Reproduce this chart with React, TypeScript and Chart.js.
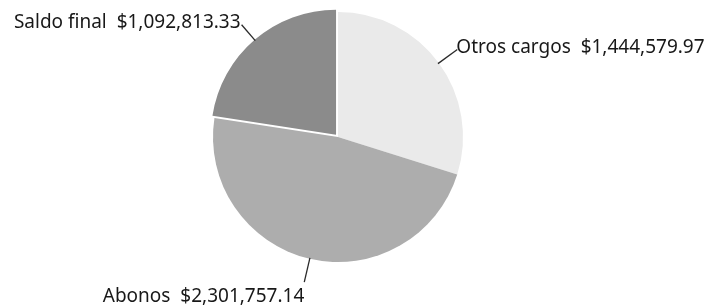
import React, { useEffect, useRef } from "react";
import { Chart, registerables } from "chart.js";

Chart.register(...registerables);

const categories = ["Otros cargos", "Abonos", "Saldo final"];
const values = [1444579.97, 2301757.14, 1092813.33];
const valueLabels = ["$1,444,579.97", "$2,301,757.14", "$1,092,813.33"];
const sliceColors = ["#eaeaea", "#adadad", "#8b8b8b"];
const sliceOffsets = [0, 0, 12];
const leaderLengths = [23, 24, 20];

const labelPlugin = {
  id: "pieLabels",
  afterDatasetsDraw(chart: any) {
    const meta = chart.getDatasetMeta(0);
    const ctx = chart.ctx as CanvasRenderingContext2D;
    ctx.save();
    ctx.font = '19px "Noto Sans"';
    ctx.fillStyle = "#181818";
    ctx.strokeStyle = "#2a2a2a";
    ctx.lineWidth = 1.3;
    meta.data.forEach((arc: any, i: number) => {
      const { x, y, startAngle, endAngle, outerRadius } = arc.getProps(
        ["x", "y", "startAngle", "endAngle", "outerRadius"],
        true
      );
      const mid = (startAngle + endAngle) / 2;
      const off = (arc.options.offset || 0) / 4;
      const cos = Math.cos(mid);
      const sin = Math.sin(mid);
      const cx = x + cos * off;
      const cy = y + sin * off;
      const r0 = outerRadius - 1;
      const r1 = outerRadius + leaderLengths[i];
      const p0x = cx + cos * r0;
      const p0y = cy + sin * r0;
      const p1x = cx + cos * r1;
      const p1y = cy + sin * r1;
      ctx.beginPath();
      ctx.moveTo(p0x, p0y);
      ctx.lineTo(p1x, p1y);
      ctx.stroke();
      const text = `${categories[i]}  ${valueLabels[i]}`;
      ctx.textBaseline = "alphabetic";
      if (sin > 0.8) {
        ctx.textAlign = "right";
        ctx.fillText(text, p1x, p1y + 20);
      } else if (cos >= 0) {
        ctx.textAlign = "left";
        ctx.fillText(text, p1x - 1, p1y + 4);
      } else {
        ctx.textAlign = "right";
        ctx.fillText(text, p1x - 1, p1y + 3);
      }
    });
    ctx.restore();
  },
};

export default function App() {
  const canvasRef = useRef<HTMLCanvasElement | null>(null);

  useEffect(() => {
    if (!canvasRef.current) return;
    const chart = new Chart(canvasRef.current, {
      type: "pie",
      data: {
        labels: categories,
        datasets: [
          {
            data: values,
            backgroundColor: sliceColors,
            borderWidth: 0,
            offset: sliceOffsets,
            radius: 125,
          } as any,
        ],
      },
      options: {
        animation: false,
        responsive: true,
        maintainAspectRatio: false,
        layout: { padding: { left: 0, right: 40, top: 0, bottom: 32 } },
        plugins: {
          legend: { display: false },
          tooltip: { enabled: false },
        },
      },
      plugins: [labelPlugin],
    });
    return () => chart.destroy();
  }, []);

  return (
    <div
      style={{
        position: "absolute",
        left: 0,
        top: 0,
        width: 716,
        height: 306,
        background: "#ffffff",
      }}
    >
      <canvas ref={canvasRef} />
    </div>
  );
}
